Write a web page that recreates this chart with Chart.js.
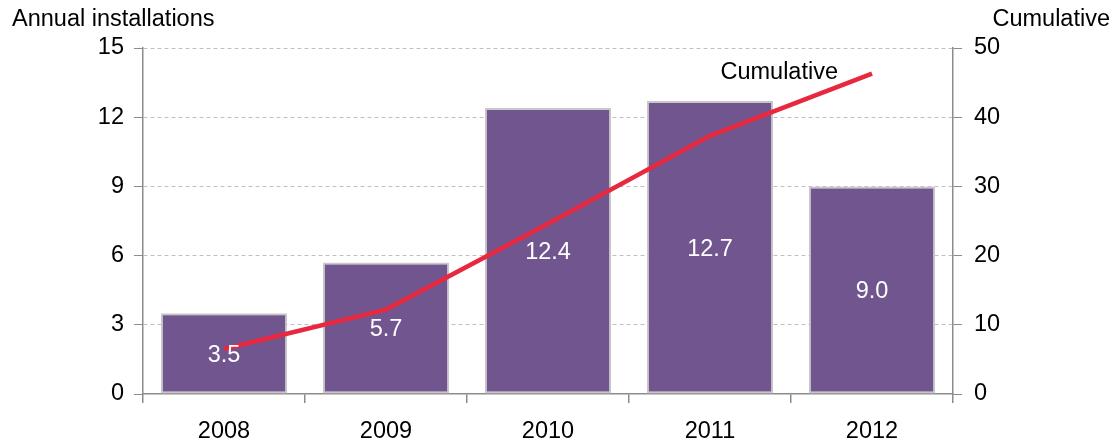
<!DOCTYPE html>
<html>
<head>
<meta charset="utf-8">
<script src="https://cdn.jsdelivr.net/npm/chart.js@4/dist/chart.umd.min.js"></script>
<style>
  html, body { margin: 0; padding: 0; background: #fff; }
  #wrap { width: 1112px; height: 439px; }
</style>
</head>
<body>
<div id="wrap"><canvas id="chart"></canvas></div>
<script>
// data
const years = ['2008', '2009', '2010', '2011', '2012'];
const annualInstallations = [3.5, 5.7, 12.4, 12.7, 9.0];
const cumulative = [6.5, 12.2, 24.6, 37.3, 46.3];
const leftTicks = [0, 3, 6, 9, 12, 15];
const rightTicks = [0, 10, 20, 30, 40, 50];

const FONT = "'Liberation Sans', Arial, sans-serif";
const FONT_SIZE = 23.5;
const AXIS_GREY = '#8c8c8c';

// white value labels in the middle of each bar, plus axis titles and line label
const extraText = {
    id: 'extraText',
    afterDatasetsDraw(chart) {
        const ctx = chart.ctx;
        ctx.save();
        ctx.font = FONT_SIZE + 'px ' + FONT;
        ctx.textBaseline = 'middle';

        const bars = chart.getDatasetMeta(1).data;
        ctx.fillStyle = '#ffffff';
        ctx.textAlign = 'center';
        bars.forEach((bar, i) => {
            const mid = (bar.y + bar.base) / 2;
            ctx.fillText(annualInstallations[i].toFixed(1), bar.x, mid + 2);
        });

        ctx.fillStyle = '#000';
        ctx.textAlign = 'left';
        ctx.fillText('Annual installations', 12, 20);
        ctx.textAlign = 'right';
        ctx.fillText('Cumulative', 1110, 20);

        const pts = chart.getDatasetMeta(0).data;
        const last = pts[pts.length - 1];
        ctx.fillText('Cumulative', last.x - 34, last.y - 1);
        ctx.restore();
    }
};

new Chart(document.getElementById('chart'), {
    data: {
        labels: years,
        datasets: [
            {
                type: 'line',
                label: 'Cumulative',
                data: cumulative,
                yAxisID: 'y1',
                borderColor: '#e8283f',
                borderWidth: 4.5,
                pointRadius: 0,
                tension: 0,
                order: 0
            },
            {
                type: 'bar',
                label: 'Annual installations',
                data: annualInstallations,
                yAxisID: 'y',
                backgroundColor: '#71558f',
                borderColor: '#c8c8c8',
                borderWidth: 2,
                borderSkipped: false,
                categoryPercentage: 1,
                barPercentage: 0.78,
                order: 1
            }
        ]
    },
    options: {
        responsive: true,
        maintainAspectRatio: false,
        animation: false,
        layout: { padding: { top: 48, left: 0, right: 0, bottom: 0 } },
        plugins: {
            legend: { display: false },
            tooltip: { enabled: false }
        },
        scales: {
            x: {
                offset: true,
                grid: {
                    offset: true,
                    drawOnChartArea: false,
                    tickLength: 9,
                    color: AXIS_GREY,
                    lineWidth: 1.5
                },
                border: { color: AXIS_GREY, width: 1.5 },
                ticks: { color: '#000', font: { family: FONT, size: FONT_SIZE }, padding: 14 },
                afterFit(scale) { scale.height = 45; }
            },
            y: {
                position: 'left',
                min: 0,
                max: 15,
                afterBuildTicks(scale) { scale.ticks = leftTicks.map(v => ({ value: v })); },
                grid: {
                    color: ctx => ctx.tick && ctx.tick.value === 0 ? 'rgba(0,0,0,0)' : '#c0c0c0',
                    tickColor: AXIS_GREY,
                    tickBorderDash: [],
                    tickLength: 9,
                    lineWidth: 1
                },
                border: { color: AXIS_GREY, width: 1.5, dash: [4, 3] },
                ticks: { color: '#000', font: { family: FONT, size: FONT_SIZE }, padding: 10 },
                afterFit(scale) { scale.width = 143; }
            },
            y1: {
                position: 'right',
                min: 0,
                max: 50,
                afterBuildTicks(scale) { scale.ticks = rightTicks.map(v => ({ value: v })); },
                grid: {
                    drawOnChartArea: false,
                    color: AXIS_GREY,
                    tickLength: 9,
                    lineWidth: 1
                },
                border: { color: AXIS_GREY, width: 1.5 },
                ticks: { color: '#000', font: { family: FONT, size: FONT_SIZE }, padding: 12 },
                afterFit(scale) { scale.width = 159; }
            }
        }
    },
    plugins: [extraText]
});
</script>
</body>
</html>
